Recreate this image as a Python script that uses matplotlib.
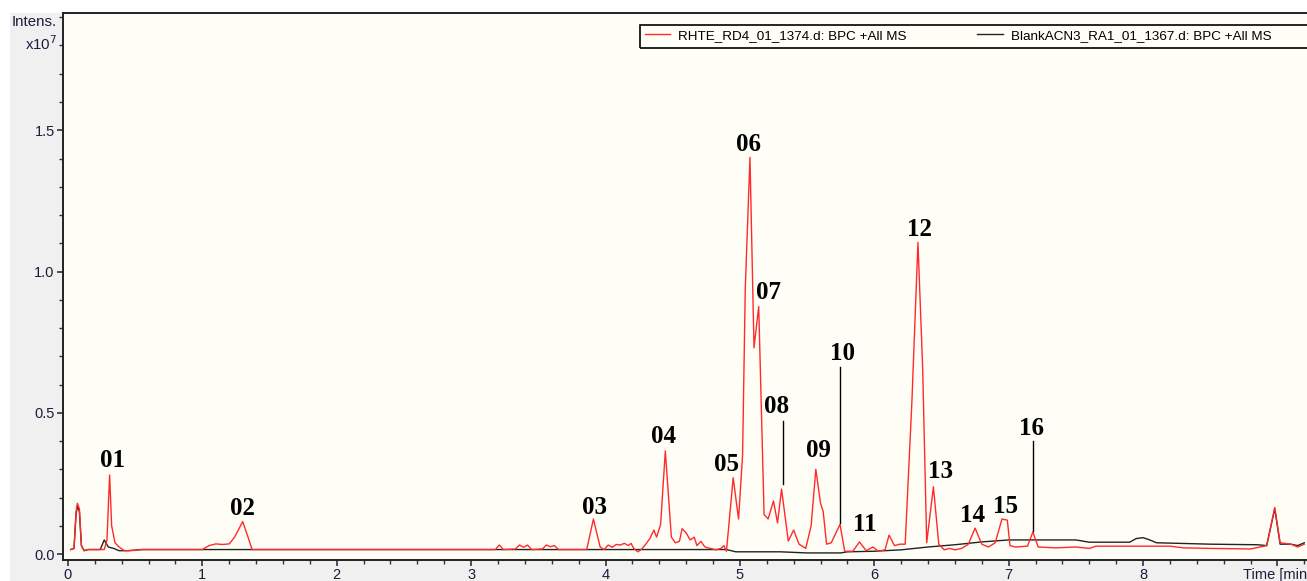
import matplotlib
matplotlib.use("Agg")
import matplotlib.pyplot as plt
from matplotlib import font_manager
from matplotlib.lines import Line2D
from matplotlib.patches import Rectangle
from matplotlib.ticker import MultipleLocator

# sample trace (time in min, intensity in 1e7)
red_t = [0.02, 0.045, 0.06, 0.07, 0.085, 0.10, 0.12, 0.15, 0.27, 0.29, 0.31, 0.325, 0.35, 0.38,
         0.42, 0.50, 0.55, 1.00, 1.05, 1.10, 1.15, 1.20, 1.24, 1.30, 1.34, 1.37,
         3.18, 3.21, 3.24, 3.33, 3.36, 3.39, 3.42, 3.45, 3.53, 3.56, 3.59, 3.62, 3.65,
         3.86, 3.91, 3.96, 3.99, 4.02, 4.05, 4.08, 4.11, 4.14, 4.17, 4.19, 4.21, 4.24, 4.27,
         4.30, 4.33, 4.36, 4.38, 4.41, 4.445, 4.49, 4.52, 4.55, 4.57, 4.60, 4.63, 4.66, 4.68,
         4.71, 4.74, 4.78, 4.82, 4.86, 4.88, 4.90, 4.95, 4.99, 5.02, 5.04, 5.075, 5.105, 5.14,
         5.18, 5.21, 5.25, 5.28, 5.31, 5.36, 5.40, 5.44, 5.49, 5.53, 5.565, 5.60, 5.62, 5.645,
         5.68, 5.745, 5.78, 5.84, 5.89, 5.94, 5.99, 6.03, 6.08, 6.11, 6.15, 6.19, 6.23, 6.28,
         6.325, 6.36, 6.39, 6.44, 6.48, 6.52, 6.56, 6.60, 6.65, 6.70, 6.75, 6.80, 6.85, 6.90,
         6.95, 6.99, 7.01, 7.05, 7.14, 7.18, 7.22, 7.35, 7.50, 7.60, 7.65, 8.20, 8.30, 8.50,
         8.80, 8.92, 8.98, 9.02, 9.10, 9.15, 9.20]
red_y = [0.016, 0.02, 0.15, 0.18, 0.16, 0.03, 0.012, 0.016, 0.016, 0.05, 0.28, 0.10, 0.04, 0.025,
         0.012, 0.013, 0.016, 0.016, 0.03, 0.036, 0.034, 0.036, 0.06, 0.115, 0.06, 0.016,
         0.016, 0.032, 0.016, 0.018, 0.032, 0.024, 0.032, 0.016, 0.018, 0.032, 0.026, 0.030, 0.016,
         0.016, 0.124, 0.025, 0.016, 0.032, 0.024, 0.034, 0.032, 0.038, 0.030, 0.038, 0.020, 0.008, 0.018,
         0.035, 0.055, 0.085, 0.06, 0.105, 0.365, 0.06, 0.04, 0.045, 0.09, 0.075, 0.05, 0.06, 0.03,
         0.045, 0.025, 0.02, 0.015, 0.02, 0.03, 0.01, 0.27, 0.124, 0.35, 0.94, 1.404, 0.73, 0.876,
         0.14, 0.124, 0.188, 0.11, 0.23, 0.046, 0.085, 0.035, 0.02, 0.10, 0.30, 0.18, 0.15, 0.035,
         0.04, 0.105, 0.01, 0.01, 0.043, 0.012, 0.025, 0.01, 0.015, 0.067, 0.03, 0.035, 0.035, 0.54,
         1.103, 0.66, 0.04, 0.238, 0.035, 0.015, 0.02, 0.015, 0.02, 0.035, 0.092, 0.035, 0.025, 0.04,
         0.124, 0.12, 0.03, 0.025, 0.028, 0.078, 0.025, 0.022, 0.025, 0.02, 0.028, 0.028, 0.022, 0.02,
         0.018, 0.03, 0.165, 0.04, 0.035, 0.025, 0.035]

# blank trace
blank_t = [0.02, 0.045, 0.06, 0.07, 0.085, 0.10, 0.12, 0.15, 0.24, 0.27, 0.30, 0.34, 0.38, 0.45,
           0.55, 1.00, 4.90, 4.97, 5.30, 5.50, 5.75, 5.80, 6.00, 6.20, 6.40, 6.60, 6.80, 7.00,
           7.50, 7.60, 7.90, 7.95, 8.00, 8.05, 8.10, 8.50, 8.85, 8.92, 8.98, 9.02, 9.10, 9.15, 9.20]
blank_y = [0.016, 0.02, 0.14, 0.17, 0.15, 0.03, 0.012, 0.016, 0.016, 0.05, 0.025, 0.02, 0.012, 0.012,
           0.016, 0.016, 0.016, 0.008, 0.008, 0.004, 0.004, 0.008, 0.01, 0.015, 0.025, 0.033, 0.043, 0.05,
           0.05, 0.042, 0.042, 0.055, 0.058, 0.05, 0.04, 0.035, 0.033, 0.03, 0.16, 0.035, 0.035, 0.03, 0.04]

peak_labels = ["01", "02", "03", "04", "05", "06", "07", "08",
               "09", "10", "11", "12", "13", "14", "15", "16"]
label_x = [0.33, 1.30, 3.92, 4.435, 4.90, 5.067, 5.215, 5.275,
           5.585, 5.76, 5.93, 6.34, 6.495, 6.73, 6.98, 7.17]
label_y = [0.33, 0.16, 0.165, 0.415, 0.318, 1.45, 0.926, 0.521,
           0.365, 0.71, 0.103, 1.148, 0.291, 0.135, 0.17, 0.443]
# leader lines: (time, y_top, y_bottom)
leaders = [(5.318, 0.472, 0.248), (5.744, 0.663, 0.110), (7.18, 0.401, 0.082)]

legend_names = ["RHTE_RD4_01_1374.d: BPC +All MS", "BlankACN3_RA1_01_1367.d: BPC +All MS"]

names = {f.name for f in font_manager.fontManager.ttflist}
narrow = "Liberation Sans Narrow" if "Liberation Sans Narrow" in names else "Liberation Sans"
leg_size = 11 if narrow == "Liberation Sans Narrow" else 9.7

fig = plt.figure(figsize=(13.07, 5.81), dpi=100, facecolor="white")
fig.patches.append(Rectangle((10 / 1307, 0), 1, 568 / 581, transform=fig.transFigure,
                             facecolor="#f0f0f0", edgecolor="none", zorder=-5))
ax = fig.add_axes([63 / 1307, 21 / 581, 1244 / 1307, 547 / 581])
ax.set_facecolor("#fffef6")

ax.plot(blank_t, blank_y, color="#222222", lw=1.0, zorder=2)
ax.plot(red_t, red_y, color="#ff2a2a", lw=1.0, zorder=3)

for lab, x, y in zip(peak_labels, label_x, label_y):
    ax.text(x, y, lab, ha="center", va="center", fontsize=18, fontweight="bold",
            family="Liberation Serif", color="black", zorder=5)
for x, y0, y1 in leaders:
    ax.plot([x, x], [y1, y0], color="black", lw=1.0, zorder=4)

ax.set_xlim(-0.037, 9.22)
ax.set_ylim(-0.021, 1.915)
ax.set_xticks(range(10))
ax.set_xticklabels([str(i) for i in range(9)] + ["Time [min]"])
ax.xaxis.set_minor_locator(MultipleLocator(0.2))
ax.set_yticks([0, 0.5, 1.0, 1.5])
ax.set_yticklabels(["0.0", "0.5", "1.0", "1.5"])
ax.yaxis.set_minor_locator(MultipleLocator(0.1))
ax.tick_params(which="both", direction="out", colors="#333333", labelcolor="#1c1c3c",
               labelsize=10.5, pad=2)
ax.tick_params(which="major", length=4, width=1.2)
ax.tick_params(which="minor", length=3, width=1.0)
for lab in ax.get_xticklabels() + ax.get_yticklabels():
    lab.set_family("Liberation Sans")
for side in ["left", "bottom", "top"]:
    ax.spines[side].set_linewidth(1.4)
    ax.spines[side].set_color("#222222")
ax.spines["right"].set_visible(False)

fig.text(57 / 1307, 1 - 22 / 581, "Intens.", ha="right", va="center", fontsize=10.8,
         family="Liberation Sans", color="#1c1c3c")
fig.text(57 / 1307, 1 - 44 / 581, r"x10$^{7}$", ha="right", va="center", fontsize=10.8,
         family="Liberation Sans", color="#1c1c3c")

# legend
ax.add_patch(Rectangle((0.4638, 0.936), 0.56, 0.042, transform=ax.transAxes, facecolor="none",
                       edgecolor="black", lw=1.2, clip_on=False, zorder=6))
handles = [Line2D([], [], color="#ff2a2a", lw=1.0), Line2D([], [], color="#222222", lw=1.0)]
leg = ax.legend(handles, legend_names, ncol=2, loc="upper left", bbox_to_anchor=(0.4638, 0.978),
                frameon=False, handlelength=1.9, handletextpad=0.6,
                columnspacing=5.2, borderaxespad=0, borderpad=0.35,
                prop={"family": narrow, "size": leg_size})

fig.savefig("out.png", dpi=100, facecolor=fig.get_facecolor())
